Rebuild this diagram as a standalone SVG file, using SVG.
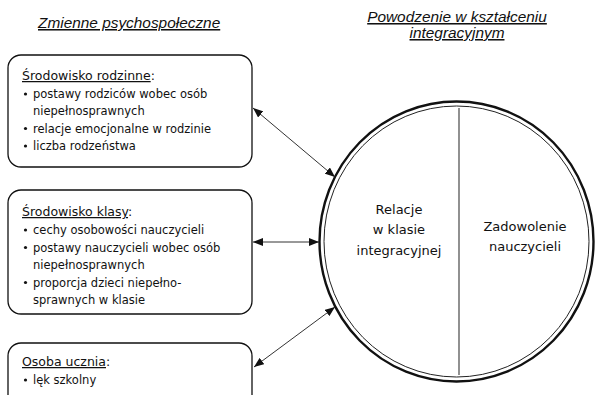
<svg xmlns="http://www.w3.org/2000/svg" width="595" height="395" viewBox="0 0 595 395">
<style>
.title{font-family:"Liberation Sans",Arial,sans-serif;font-style:italic;font-size:15.4px;fill:#111;text-decoration:underline}
.box{fill:#fff;stroke:#111;stroke-width:1.3}
.head{font-family:"DejaVu Sans",sans-serif;font-size:12.5px;fill:#111}
.u{text-decoration:underline}
.item{font-family:"DejaVu Sans",sans-serif;font-size:11.5px;fill:#111}
.ctext{font-family:"DejaVu Sans",sans-serif;font-size:13px;fill:#111;text-anchor:middle}
.dot{fill:#111}
.conn{stroke:#333;stroke-width:1;fill:none;marker-start:url(#ah);marker-end:url(#ah)}
</style>
<defs>
<marker id="ah" viewBox="0 0 10 8" refX="10" refY="4" markerWidth="10" markerHeight="8" markerUnits="userSpaceOnUse" orient="auto-start-reverse">
<path d="M0,0 L10,4 L0,8 Z" fill="#111"/>
</marker>
</defs>
<rect width="595" height="395" fill="#fff"/>
<text class="title" x="38" y="28">Zmienne psychospołeczne</text>
<text class="title" x="457" y="22" text-anchor="middle">Powodzenie w kształceniu</text>
<text class="title" x="457" y="38" text-anchor="middle">integracyjnym</text>

<g id="box-rodzina">
<rect class="box" x="8" y="55" width="244" height="112" rx="13"/>
<text class="head" x="22" y="80"><tspan class="u">Środowisko rodzinne</tspan>:</text>
<circle class="dot" cx="25.5" cy="94" r="1.6"/>
<text class="item" x="33" y="98">postawy rodziców wobec osób</text>
<text class="item" x="33" y="115">niepełnosprawnych</text>
<circle class="dot" cx="25.5" cy="128.5" r="1.6"/>
<text class="item" x="33" y="132.5">relacje emocjonalne w rodzinie</text>
<circle class="dot" cx="25.5" cy="146" r="1.6"/>
<text class="item" x="33" y="150">liczba rodzeństwa</text>
</g>

<g id="box-klasa">
<rect class="box" x="8" y="190" width="244" height="124" rx="13"/>
<text class="head" x="22" y="216"><tspan class="u">Środowisko klasy</tspan>:</text>
<circle class="dot" cx="25.5" cy="230" r="1.6"/>
<text class="item" x="33" y="234">cechy osobowości nauczycieli</text>
<circle class="dot" cx="25.5" cy="247.5" r="1.6"/>
<text class="item" x="33" y="251.5">postawy nauczycieli wobec osób</text>
<text class="item" x="33" y="269">niepełnosprawnych</text>
<circle class="dot" cx="25.5" cy="282.5" r="1.6"/>
<text class="item" x="33" y="286.5">proporcja dzieci niepełno-</text>
<text class="item" x="33" y="304">sprawnych w klasie</text>
</g>

<g id="box-uczen">
<rect class="box" x="8" y="343" width="244" height="70" rx="13"/>
<text class="head" x="22" y="366"><tspan class="u">Osoba ucznia</tspan>:</text>
<circle class="dot" cx="25.5" cy="380" r="1.6"/>
<text class="item" x="33" y="384">lęk szkolny</text>
</g>

<g id="circle">
<ellipse cx="456.5" cy="241.5" rx="137" ry="140" fill="#fff" stroke="#111" stroke-width="2.4"/>
<ellipse cx="456.5" cy="241.5" rx="132.5" ry="135.5" fill="none" stroke="#222" stroke-width="1"/>
<line x1="459" y1="108" x2="459" y2="375" stroke="#555" stroke-width="1.3"/>
<text class="ctext" x="399" y="214">Relacje</text>
<text class="ctext" x="399" y="234">w klasie</text>
<text class="ctext" x="399" y="255">integracyjnej</text>
<text class="ctext" x="525" y="231">Zadowolenie</text>
<text class="ctext" x="525" y="251">nauczycieli</text>
</g>

<g id="connectors">
<line class="conn" x1="253" y1="108" x2="335" y2="177"/>
<line class="conn" x1="253" y1="242" x2="319" y2="242"/>
<line class="conn" x1="254" y1="367" x2="335" y2="307"/>
</g>
</svg>
